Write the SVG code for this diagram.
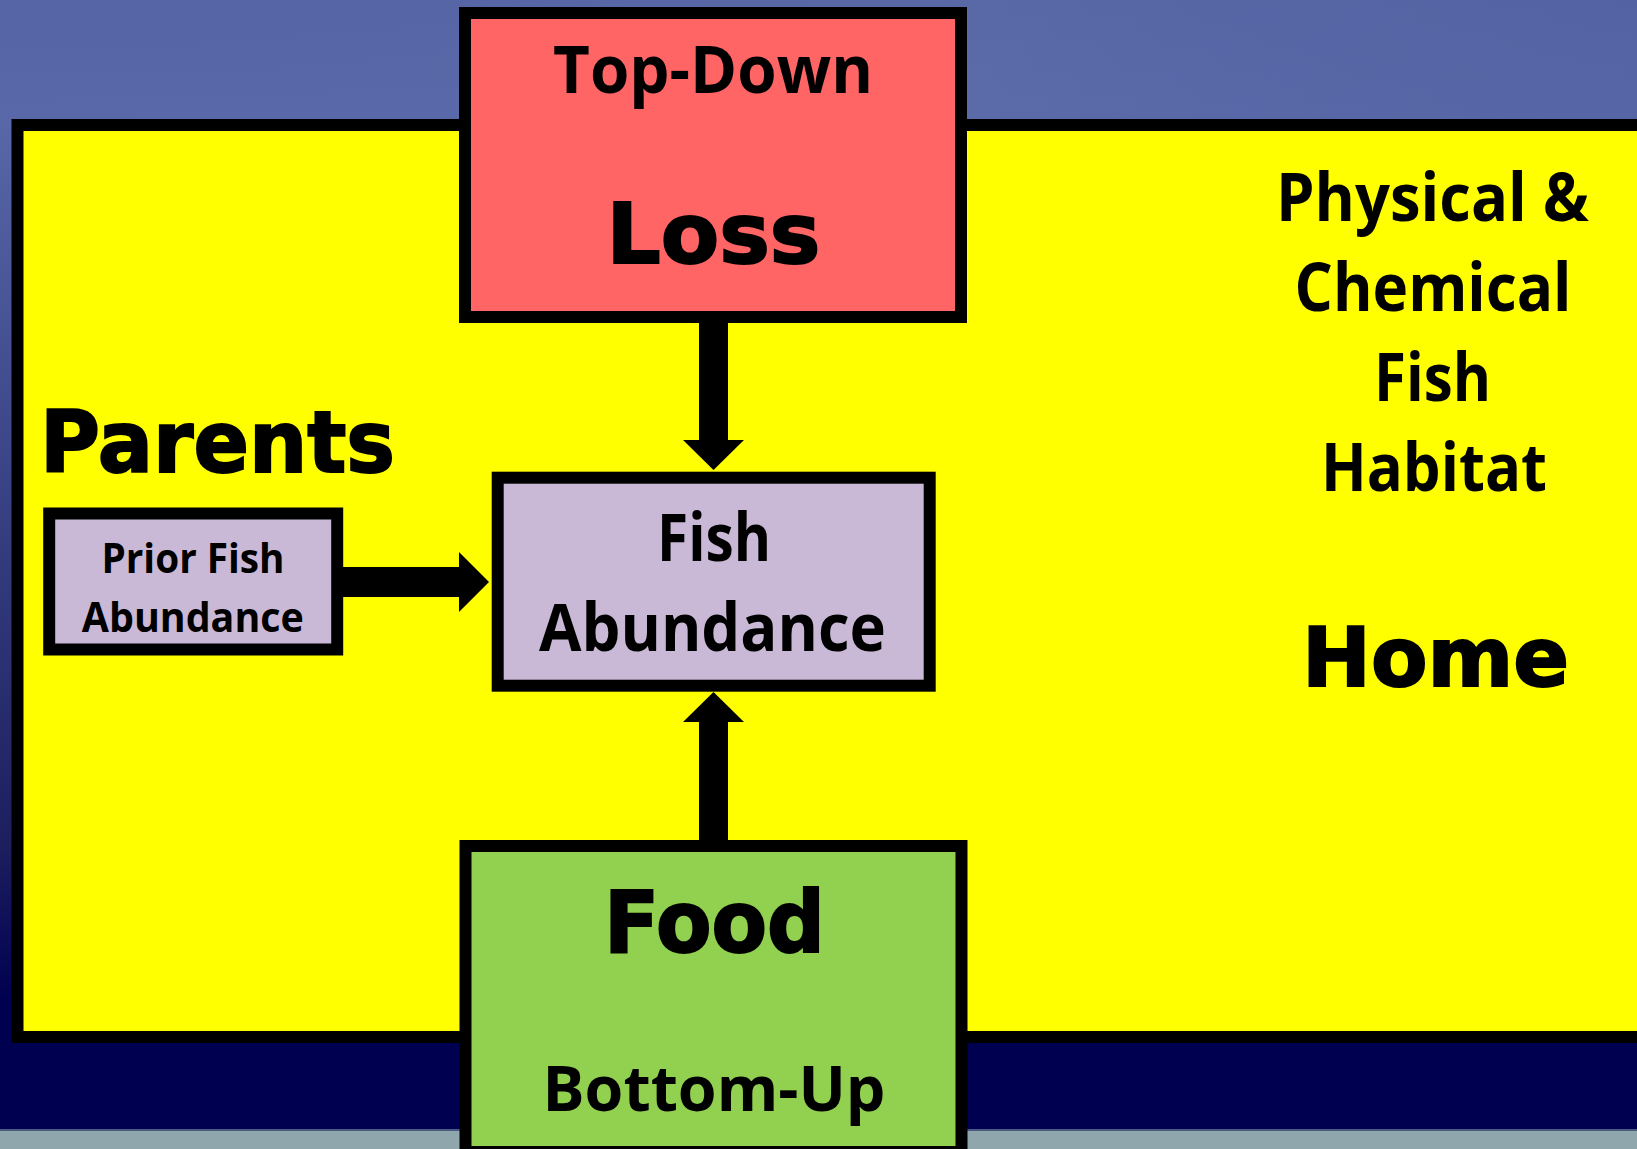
<svg xmlns="http://www.w3.org/2000/svg" width="1637" height="1149" viewBox="0 0 1637 1149">
  <defs>
    <linearGradient id="bg" x1="0" y1="0" x2="0" y2="1">
      <stop offset="0" stop-color="#5464a4"/>
      <stop offset="0.1" stop-color="#5868a8"/>
      <stop offset="0.4" stop-color="#3c4688"/>
      <stop offset="0.75" stop-color="#1c1e5e"/>
      <stop offset="0.885" stop-color="#000050"/>
      <stop offset="1" stop-color="#000050"/>
    </linearGradient>
    <linearGradient id="bgtop" x1="0" y1="0" x2="1" y2="0">
      <stop offset="0" stop-color="#5868a8" stop-opacity="0"/>
      <stop offset="0.6" stop-color="#6070ad" stop-opacity="0.4"/>
      <stop offset="1" stop-color="#4e5e9e" stop-opacity="0.3"/>
    </linearGradient>
    <style>
      .box { stroke: #000; stroke-width: 12; }
      .cal { font-family: "Open Sans", "Noto Sans", "Liberation Sans", sans-serif; font-weight: bold; fill: #000; text-anchor: middle; }
      .blk { font-family: "DejaVu Sans", "Liberation Sans", sans-serif; font-weight: bold; fill: #000; stroke: #000; stroke-width: 2; text-anchor: middle; }
      .arrow { fill: #000; }
    </style>
  </defs>

  <!-- background -->
  <rect x="0" y="0" width="1637" height="1130" fill="url(#bg)"/>
  <rect x="0" y="0" width="1637" height="120" fill="url(#bgtop)"/>
  <rect x="0" y="1130" width="1637" height="19" fill="#8ea6ac"/>
  <rect x="0" y="1129" width="1637" height="2" fill="#4a5a80"/>

  <!-- Home / habitat frame -->
  <g id="home">
    <rect class="box" x="17.5" y="125" width="1640" height="912" fill="#ffff00"/>
    <text class="cal" x="1432.5" y="221" font-size="66" textLength="313" lengthAdjust="spacingAndGlyphs">Physical &amp;</text>
    <text class="cal" x="1433" y="311" font-size="66" textLength="277" lengthAdjust="spacingAndGlyphs">Chemical</text>
    <text class="cal" x="1432.5" y="401" font-size="66" textLength="117" lengthAdjust="spacingAndGlyphs">Fish</text>
    <text class="cal" x="1434" y="491" font-size="66" textLength="226" lengthAdjust="spacingAndGlyphs">Habitat</text>
    <text class="blk" x="1435.5" y="686" font-size="82" textLength="267" lengthAdjust="spacingAndGlyphs">Home</text>
  </g>

  <g id="parents">
    <text class="blk" x="40" y="471.5" font-size="85" style="text-anchor:start" textLength="355" lengthAdjust="spacingAndGlyphs">Parents</text>
  </g>

  <g id="loss">
    <rect class="box" x="465" y="13" width="496" height="304" fill="#ff6565"/>
    <text class="cal" x="713" y="92.7" font-size="67" textLength="320" lengthAdjust="spacingAndGlyphs">Top-Down</text>
    <text class="blk" x="713.5" y="263" font-size="84" textLength="214" lengthAdjust="spacingAndGlyphs">Loss</text>
  </g>

  <g id="food">
    <rect class="box" x="465.5" y="846" width="496" height="306" fill="#92d050"/>
    <text class="blk" x="714.5" y="951.7" font-size="85" textLength="221" lengthAdjust="spacingAndGlyphs">Food</text>
    <text class="cal" x="714" y="1111" font-size="63" textLength="343" lengthAdjust="spacingAndGlyphs">Bottom-Up</text>
  </g>

  <!-- connectors -->
  <g id="connectors">
    <polygon class="arrow" points="699,323 728,323 728,440 744,440 713.5,470 683,440 699,440"/>
    <polygon class="arrow" points="699,846 728,846 728,722 744,722 713.5,692 683,722 699,722"/>
    <polygon class="arrow" points="343,567 459,567 459,552 489,582 459,612 459,597 343,597"/>
  </g>

  <g id="fish-abundance">
    <rect class="box" x="497.7" y="477.7" width="432" height="208" fill="#cab9d6"/>
    <text class="cal" x="714" y="560.7" font-size="67" textLength="114" lengthAdjust="spacingAndGlyphs">Fish</text>
    <text class="cal" x="712.5" y="651" font-size="67" textLength="347" lengthAdjust="spacingAndGlyphs">Abundance</text>
  </g>

  <g id="prior-fish-abundance">
    <rect class="box" x="49.2" y="513.5" width="288" height="136" fill="#cab9d6"/>
    <text class="cal" x="193" y="573.3" font-size="41" textLength="183" lengthAdjust="spacingAndGlyphs">Prior Fish</text>
    <text class="cal" x="192.8" y="631.7" font-size="41" textLength="222" lengthAdjust="spacingAndGlyphs">Abundance</text>
  </g>
</svg>
